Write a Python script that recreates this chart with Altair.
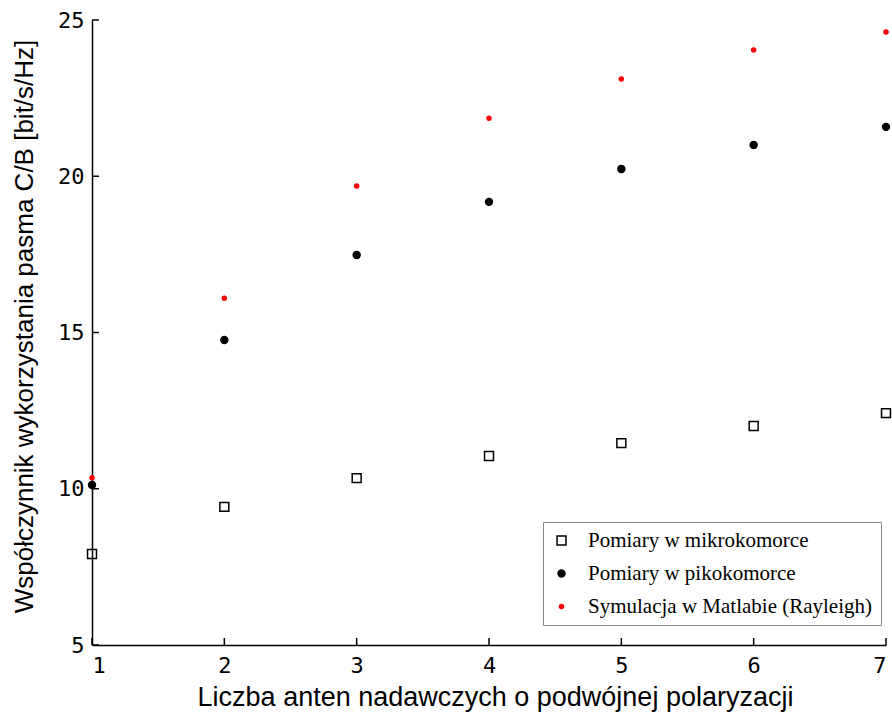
import altair as alt
import pandas as pd

anteny = [1, 2, 3, 4, 5, 6, 7]
mikro = [7.91, 9.42, 10.34, 11.05, 11.46, 12.01, 12.42]
piko = [10.12, 14.76, 17.48, 19.18, 20.23, 21.0, 21.58]
symulacja = [10.35, 16.1, 19.69, 21.86, 23.11, 24.04, 24.62]

serie = ["Pomiary w mikrokomorce", "Pomiary w pikokomorce", "Symulacja w Matlabie (Rayleigh)"]
x_ticks = [1, 2, 3, 4, 5, 6, 7]
y_ticks = [5, 10, 15, 20, 25]

rows = []
for name, vals in zip(serie, [mikro, piko, symulacja]):
    for a, v in zip(anteny, vals):
        rows.append({"x": a, "y": v, "seria": name})
df = pd.DataFrame(rows)

xs = alt.Scale(domain=[1, 7], nice=False, zero=False)
ys = alt.Scale(domain=[5, 25], nice=False, zero=False)

leg = alt.Legend(
    title=None, orient="none", legendX=451, legendY=502,
    labelFont="Liberation Serif", labelFontSize=21, labelColor="black",
    labelLimit=500,
    labelOffset=16, rowPadding=11, padding=8,
    strokeColor="#888888", fillColor="white",
    symbolStrokeWidth=1.5, symbolOpacity=1,
)

points = alt.Chart(df).mark_point(filled=False, strokeWidth=1.5, opacity=1, clip=False).encode(
    x=alt.X("x:Q", scale=xs,
            axis=alt.Axis(values=x_ticks, format="d", tickSize=0, grid=False,
                          title="Liczba anten nadawczych o podwójnej polaryzacji",
                          titleFont="Liberation Sans", titleFontSize=27, titleFontWeight="normal",
                          titleColor="black", titlePadding=8, titleX=403,
                          labelFont="DejaVu Sans Mono", labelFontSize=22, labelColor="black",
                          labelPadding=10, domainColor="black", domainWidth=1.5)),
    y=alt.Y("y:Q", scale=ys,
            axis=alt.Axis(values=y_ticks, format="d", tickSize=0, grid=False,
                          title="Współczynnik wykorzystania pasma C/B [bit/s/Hz]",
                          titleFont="Liberation Sans", titleFontSize=26, titleFontWeight="normal",
                          titleColor="black", titlePadding=20, titleY=306,
                          labelFont="DejaVu Sans Mono", labelFontSize=22, labelColor="black",
                          labelPadding=8, domainColor="black", domainWidth=1.5)),
    shape=alt.Shape("seria:N", scale=alt.Scale(domain=serie, range=["square", "circle", "circle"]), legend=leg),
    stroke=alt.Stroke("seria:N", scale=alt.Scale(domain=serie, range=["black", "black", "red"]), legend=leg),
    fill=alt.Fill("seria:N", scale=alt.Scale(domain=serie, range=["transparent", "black", "red"]), legend=leg),
    size=alt.Size("seria:N", scale=alt.Scale(domain=serie, range=[80, 16, 16]), legend=leg),
)

ytick_df = pd.DataFrame({"y": y_ticks})
xtick_df = pd.DataFrame({"x": x_ticks})

yticks = alt.Chart(ytick_df).mark_rule(color="black", strokeWidth=1.5).encode(
    y=alt.Y("y:Q", scale=ys), x=alt.value(0), x2=alt.value(7))
xticks = alt.Chart(xtick_df).mark_rule(color="black", strokeWidth=1.5).encode(
    x=alt.X("x:Q", scale=xs), y=alt.value(625), y2=alt.value(618))

chart = alt.layer(yticks, xticks, points).properties(
    width=794, height=625,
    autosize=alt.AutoSizeParams(type="none"),
    padding={"left": 92, "top": 20, "right": 6, "bottom": 75},
    background="white",
).configure_view(strokeWidth=0)

chart.save("out.html", embed_options={"renderer": "svg", "actions": False})
